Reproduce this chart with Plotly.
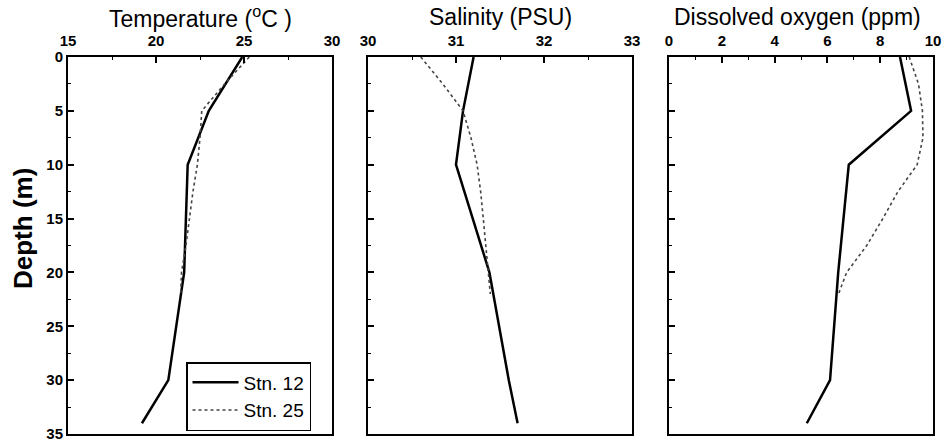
import plotly.graph_objects as go

# ---------------- data ----------------
depth_12 = [0, 5, 10, 20, 30, 34]
temp_12 = [24.9, 23.0, 21.8, 21.6, 20.7, 19.2]
sal_12 = [31.2, 31.08, 31.0, 31.38, 31.6, 31.7]
oxy_12 = [8.75, 9.17, 6.81, 6.41, 6.1, 5.22]

depth_25 = [0, 2.5, 5, 7.5, 10, 12.5, 15, 17.5, 20, 22]
temp_25 = [25.3, 23.9, 22.6, 22.5, 22.35, 22.1, 21.9, 21.7, 21.45, 21.4]
sal_25 = [30.6, 30.85, 31.08, 31.17, 31.24, 31.28, 31.31, 31.34, 31.37, 31.39]
oxy_25 = [9.1, 9.45, 9.6, 9.62, 9.4, 8.67, 8.1, 7.49, 6.73, 6.42]

panel_titles = ["Temperature (<sup>o</sup>C )", "Salinity (PSU)", "Dissolved oxygen (ppm)"]
x_ranges = [[15, 30], [30, 33], [0, 10]]
x_ticks = [[15, 20, 25, 30], [30, 31, 32, 33], [0, 2, 4, 6, 8, 10]]
x_minor = [2.5, 0.5, 1]
y_ticks = [0, 5, 10, 15, 20, 25, 30, 35]
series_names = ["Stn. 12", "Stn. 25"]

# ---------------- figure ----------------
W, H = 944, 446
fig = go.Figure()

panels_px = [(68, 332), (368, 632), (669, 933)]
y_dom = [1 - 434 / H, 1 - 57 / H]

vals12 = [temp_12, sal_12, oxy_12]
vals25 = [temp_25, sal_25, oxy_25]

FONT = "Liberation Sans, Arial, Helvetica, sans-serif"

for i in range(3):
    xa = "x" if i == 0 else f"x{i+1}"
    ya = "y" if i == 0 else f"y{i+1}"
    fig.add_trace(go.Scatter(
        x=vals12[i], y=depth_12, xaxis=xa, yaxis=ya, mode="lines",
        line=dict(color="black", width=2.5), name=series_names[0],
        showlegend=(i == 0)))
    fig.add_trace(go.Scatter(
        x=vals25[i], y=depth_25, xaxis=xa, yaxis=ya, mode="lines",
        line=dict(color="#444444", width=1.6, dash="dot"), name=series_names[1],
        showlegend=(i == 0)))

    x0, x1 = panels_px[i]
    xkey = "xaxis" if i == 0 else f"xaxis{i+1}"
    ykey = "yaxis" if i == 0 else f"yaxis{i+1}"
    fig.layout[xkey] = dict(
        domain=[x0 / W, x1 / W], anchor=ya, side="top", range=x_ranges[i],
        tickvals=x_ticks[i], ticks="inside", ticklen=6, tickwidth=1.5,
        tickcolor="black", showline=True, linecolor="black", linewidth=2,
        mirror=True, showgrid=False, zeroline=False, automargin=False,
        tickfont=dict(family=FONT, size=15, color="black", weight="bold"),
        minor=dict(dtick=x_minor[i], ticks="inside", ticklen=3,
                   tickcolor="black", tickwidth=1, showgrid=False),
        ticklabelstandoff=3,
    )
    fig.layout[ykey] = dict(
        domain=y_dom, anchor=xa, range=[35, 0], tickvals=y_ticks,
        ticks="inside", ticklen=6, tickwidth=1.5, tickcolor="black",
        showline=True, linecolor="black", linewidth=2, mirror=True,
        showgrid=False, zeroline=False, showticklabels=(i == 0),
        automargin=False,
        tickfont=dict(family=FONT, size=15, color="black", weight="bold"),
        minor=dict(dtick=2.5, ticks="inside", ticklen=3, tickcolor="black",
                   tickwidth=1, showgrid=False),
    )

annotations = []
centers = [200, 500, 797]
for i in range(3):
    annotations.append(dict(
        text=panel_titles[i], x=centers[i] / W, y=1 - 17 / H,
        xref="paper", yref="paper", showarrow=False, xanchor="center",
        yanchor="middle", font=dict(family=FONT, size=23, color="black")))
annotations.append(dict(
    text="<b>Depth (m)</b>", x=23 / W, y=1 - 229 / H, xref="paper",
    yref="paper", showarrow=False, textangle=-90, xanchor="center",
    yanchor="middle", font=dict(family=FONT, size=26, color="black")))

fig.update_layout(
    width=W, height=H, margin=dict(l=0, r=0, t=0, b=0),
    paper_bgcolor="white", plot_bgcolor="white",
    annotations=annotations,
    legend=dict(x=186 / W, y=1 - 362 / H, xanchor="left", yanchor="top",
                bordercolor="black", borderwidth=1.5, bgcolor="white",
                font=dict(family=FONT, size=19, color="black"),
                tracegroupgap=0, itemwidth=46),
)

fig.write_html("out.html",
               config={"displayModeBar": False},
               post_script="document.body.style.margin='0';"
                           "document.body.style.overflow='hidden';")
